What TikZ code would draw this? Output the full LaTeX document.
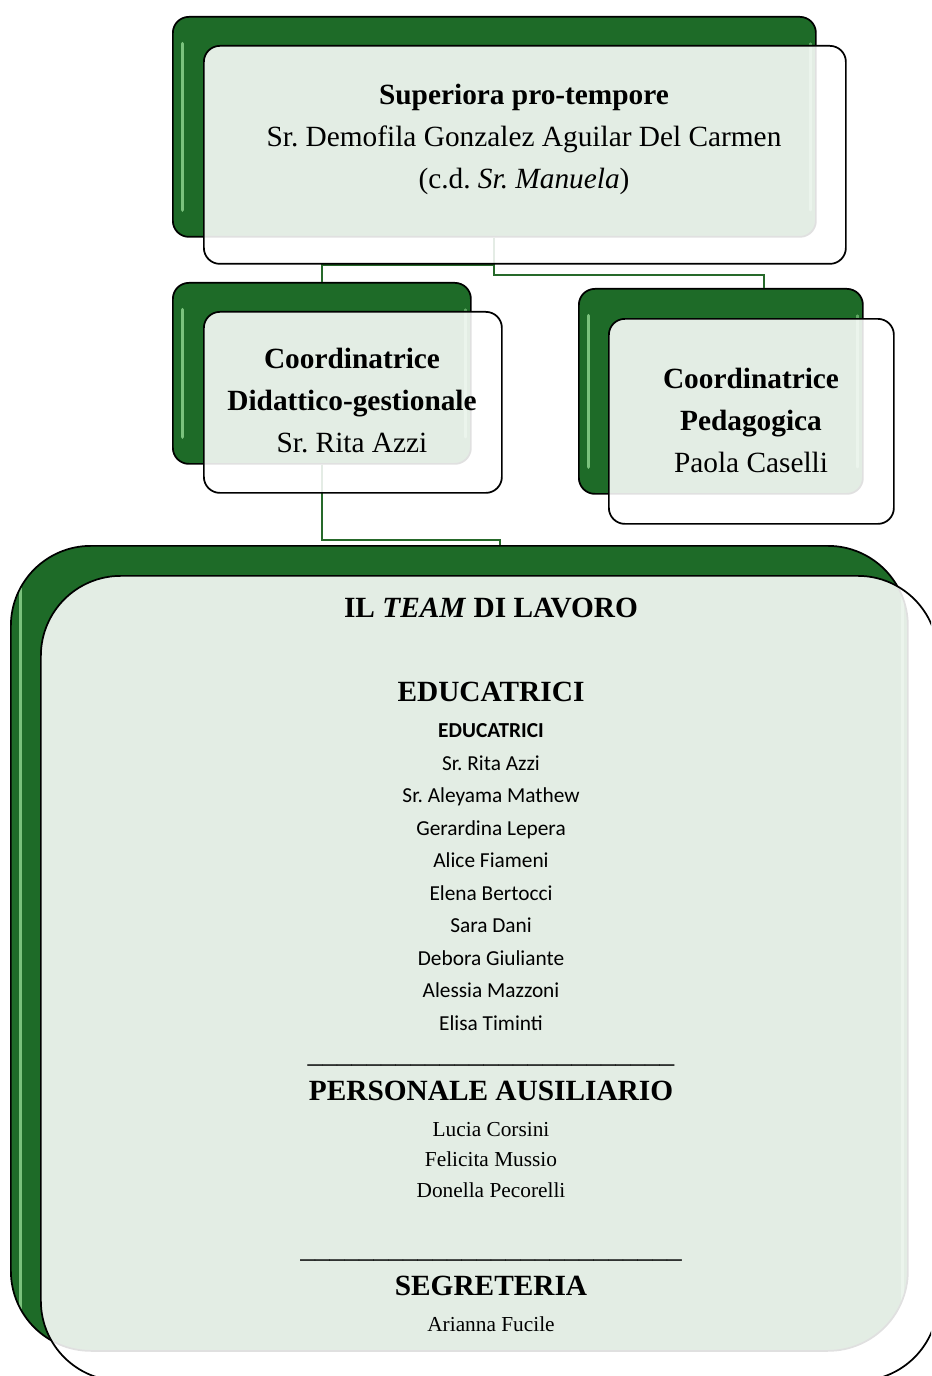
\documentclass[tikz,border=0pt]{standalone}
\usepackage{fontspec}
\setmainfont{Liberation Serif}
\newfontfamily\calibri{Carlito}
\usepackage{tikz}
\definecolor{boxgreen}{RGB}{30,107,40}
\definecolor{linkgreen}{RGB}{38,105,42}
\definecolor{glossgreen}{RGB}{140,210,140}
\tikzset{
	boxsize/.style 2 args={minimum width=#1*0.75pt, minimum height=#2*0.75pt},
	backbox/.style={draw=black, line width=1.3pt, fill=boxgreen, rounded corners=#1, anchor=north west, inner sep=0pt,
		path picture={
			\draw[glossgreen, line width=2.4pt, line cap=round, opacity=0.85] ([xshift=7pt,yshift=-20pt]path picture bounding box.north west) -- ([xshift=7pt,yshift=20pt]path picture bounding box.south west);
			\draw[glossgreen, line width=1.6pt, line cap=round, opacity=0.6] ([xshift=-4pt,yshift=-20pt]path picture bounding box.north east) -- ([xshift=-4pt,yshift=20pt]path picture bounding box.south east);
		}},
	frontbox/.style={draw=black, line width=1.3pt, fill=white, fill opacity=0.88, rounded corners=#1, anchor=north west, inner sep=0pt},
	link/.style={draw=linkgreen, line width=1.6pt},
	big/.style={anchor=base, font=\fontsize{22pt}{26pt}\selectfont},
	small/.style={anchor=base, font=\fontsize{16pt}{19pt}\selectfont},
	namec/.style={anchor=base, font=\calibri\fontsize{16pt}{19pt}\selectfont},
}
\frenchspacing

\begin{document}
\begin{tikzpicture}[x=0.75pt, y=-0.75pt]
	\useasboundingbox (0,0) rectangle (931,1376);
	\clip (0,0) rectangle (931,1376);
	\node[backbox=12pt, boxsize={643}{220}] (supB) at (172,16) {};
	\node[backbox=12pt, boxsize={298}{181}] (didB) at (172,282) {};
	\node[backbox=12pt, boxsize={284}{205}] (pedB) at (578,288) {};
	\node[backbox=60pt, boxsize={897}{805}] (teamB) at (10,545) {};
	\coordinate (pedIn) at (764,288);
	\coordinate (teamIn) at (500,545);
	\draw[link] (supB.south) -- ++(0,27) -| (didB.north);
	\draw[link] (supB.south) -- ++(0,37) -| (pedIn);
	\draw[link] (didB.south) -- ++(0,75) -| (teamIn);
	\node[frontbox=12pt, boxsize={642}{218}] (supF) at (203,45) {};
	\node[frontbox=12pt, boxsize={298}{181}] (didF) at (203,311) {};
	\node[frontbox=12pt, boxsize={285}{205}] (pedF) at (608,318) {};
	\node[frontbox=60pt, boxsize={897}{805}] (teamF) at (40,575) {};
	\node[big] (sup1) at (524,105) {\textbf{Superiora pro-tempore}};
	\node[big] (sup2) at (524,147) {Sr. Demofila Gonzalez Aguilar Del Carmen};
	\node[big] (sup3) at (524,189) {(c.d. \textit{Sr. Manuela})};
	\node[big] (did1) at (352,368) {\textbf{Coordinatrice}};
	\node[big] (did2) at (352,410) {\textbf{Didattico-gestionale}};
	\node[big] (did3) at (352,452) {Sr. Rita Azzi};
	\node[big] (ped1) at (751,388) {\textbf{Coordinatrice}};
	\node[big] (ped2) at (751,430) {\textbf{Pedagogica}};
	\node[big] (ped3) at (751,472) {Paola Caselli};
	\node[big] (team) at (491,617) {\textbf{IL \textit{TEAM} DI LAVORO}};
	\node[big] (eduHead) at (491,701) {\textbf{EDUCATRICI}};
	\node[namec] (eduSub) at (491,737) {\textbf{EDUCATRICI}};
	\foreach \who [count=\i] in {Sr. Rita Azzi, Sr. Aleyama Mathew, Gerardina Lepera, Alice Fiameni, Elena Bertocci, Sara Dani, Debora Giuliante, Alessia Mazzoni, Elisa Timinti}
		\node[namec] (edu\i) at (491,{770+32.5*(\i-1)}) {\who};
	\node[big] (rule1) at (491,1062) {\_\_\_\_\_\_\_\_\_\_\_\_\_\_\_\_\_\_\_\_\_\_\_\_\_};
	\node[big] (ausHead) at (491,1100) {\textbf{PERSONALE AUSILIARIO}};
	\node[small] (aus1) at (491,1136) {Lucia Corsini};
	\node[small] (aus2) at (491,1166) {Felicita Mussio};
	\node[small] (aus3) at (491,1197) {Donella Pecorelli};
	\node[big] (rule2) at (491,1257) {\_\_\_\_\_\_\_\_\_\_\_\_\_\_\_\_\_\_\_\_\_\_\_\_\_\_};
	\node[big] (segHead) at (491,1295) {\textbf{SEGRETERIA}};
	\node[small] (seg1) at (491,1331) {Arianna Fucile};
\end{tikzpicture}
\end{document}
